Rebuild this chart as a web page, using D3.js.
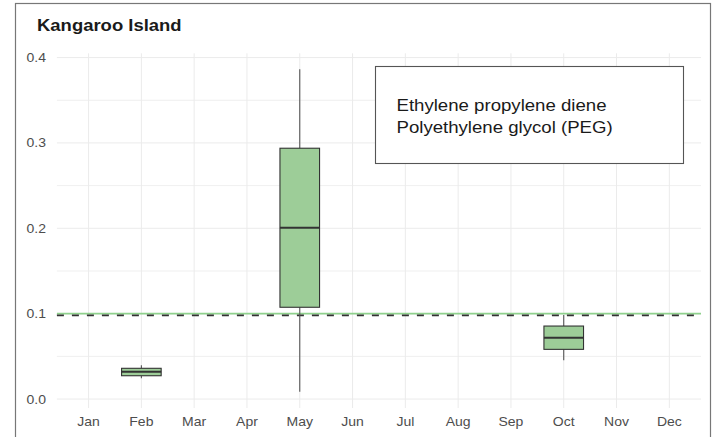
<!DOCTYPE html>
<html>
<head>
<meta charset="utf-8">
<script src="https://cdn.jsdelivr.net/npm/d3@7"></script>
<style>
  html, body { margin: 0; padding: 0; background: #fff; }
  svg { display: block; font-family: "Liberation Sans", Arial, Helvetica, sans-serif; }
</style>
</head>
<body>
<div id="chart"></div>
<script>
// Monthly box plots for Kangaroo Island
const months = ["Jan", "Feb", "Mar", "Apr", "May", "Jun", "Jul", "Aug", "Sep", "Oct", "Nov", "Dec"];
const boxMonths = ["Feb", "May", "Oct"];
const lowerWhisker = [0.0243, 0.0085, 0.0454];
const q1 = [0.0273, 0.1075, 0.0582];
const median = [0.032, 0.2007, 0.0718];
const q3 = [0.036, 0.2938, 0.0855];
const upperWhisker = [0.0395, 0.3864, 0.0984];
const yTicks = [0, 0.1, 0.2, 0.3, 0.4];
const yMinorTicks = [0.05, 0.15, 0.25, 0.35];
const guideValue = 0.1;      // solid green reference
const limitValue = 0.098;    // dashed reference
const title = "Kangaroo Island";
const legendLabels = ["Ethylene propylene diene", "Polyethylene glycol (PEG)"];

const W = 713, H = 437;
const panel = { left: 56.9, right: 701, top: 53.3, bottom: 408 };
const SX = 1.12; // horizontal text stretch

const svg = d3.select("#chart").append("svg")
  .attr("width", W).attr("height", H);

// outer frame
svg.append("rect")
  .attr("x", 15.5).attr("y", 3.5)
  .attr("width", 695).attr("height", 460)
  .attr("fill", "#fff").attr("stroke", "#777").attr("stroke-width", 1.2);

const x = d3.scalePoint().domain(months)
  .range([panel.left, panel.right]).padding(0.6);
const y = d3.scaleLinear().domain([-0.0105, 0.405])
  .range([panel.bottom, panel.top]);
const step = x.step();
const boxW = step * 0.75;

function stretchedText(g, tx, ty, str, anchor, sx) {
  return g.append("text")
    .attr("transform", `translate(${tx},${ty}) scale(${sx || SX},1)`)
    .attr("text-anchor", anchor || "start")
    .text(str);
}

// grid
const grid = svg.append("g").attr("stroke", "#ebebeb").attr("stroke-width", 1);
grid.selectAll("line.minor").data(yMinorTicks).join("line")
  .attr("x1", panel.left).attr("x2", panel.right)
  .attr("y1", d => y(d)).attr("y2", d => y(d)).attr("stroke-width", 0.8);
grid.selectAll("line.major").data(yTicks).join("line")
  .attr("x1", panel.left).attr("x2", panel.right)
  .attr("y1", d => y(d)).attr("y2", d => y(d));
grid.selectAll("line.v").data(months).join("line")
  .attr("x1", d => x(d)).attr("x2", d => x(d))
  .attr("y1", panel.top).attr("y2", panel.bottom);

// y axis labels
const yAxis = d3.axisLeft(y).tickValues(yTicks).tickFormat(d3.format(".1f")).tickSize(0);
const yg = svg.append("g").attr("transform", `translate(${panel.left},0)`).call(yAxis);
yg.select(".domain").remove();
yg.selectAll("text").remove();
yTicks.forEach(t => {
  stretchedText(svg, 46, y(t) + 4.5, d3.format(".1f")(t), "end")
    .attr("font-size", 12.5).attr("fill", "#4d4d4d");
});

// x axis labels
const xAxis = d3.axisBottom(x).tickSize(0);
const xg = svg.append("g").attr("transform", `translate(0,${panel.bottom})`).call(xAxis);
xg.select(".domain").remove();
xg.selectAll("text").remove();
months.forEach(m => {
  stretchedText(svg, x(m), 425.5, m, "middle")
    .attr("font-size", 12.5).attr("fill", "#4d4d4d");
});

// reference lines
svg.append("line")
  .attr("x1", panel.left).attr("x2", panel.right)
  .attr("y1", y(guideValue)).attr("y2", y(guideValue))
  .attr("stroke", "#8fd18d").attr("stroke-width", 1.6);
svg.append("line")
  .attr("x1", panel.left).attr("x2", panel.right)
  .attr("y1", y(limitValue)).attr("y2", y(limitValue))
  .attr("stroke", "#333").attr("stroke-width", 1.8)
  .attr("stroke-dasharray", "7 8");

// box plots
const boxes = boxMonths.map((m, i) => ({
  m, lo: lowerWhisker[i], q1: q1[i], med: median[i], q3: q3[i], hi: upperWhisker[i]
}));
const bg = svg.append("g");
const b = bg.selectAll("g.box").data(boxes).join("g");
b.append("line")
  .attr("x1", d => x(d.m)).attr("x2", d => x(d.m))
  .attr("y1", d => y(d.hi)).attr("y2", d => y(d.q3))
  .attr("stroke", "#555").attr("stroke-width", 1.1);
b.append("line")
  .attr("x1", d => x(d.m)).attr("x2", d => x(d.m))
  .attr("y1", d => y(d.q1)).attr("y2", d => y(d.lo))
  .attr("stroke", "#555").attr("stroke-width", 1.1);
b.append("rect")
  .attr("x", d => x(d.m) - boxW / 2).attr("width", boxW)
  .attr("y", d => y(d.q3)).attr("height", d => y(d.q1) - y(d.q3))
  .attr("fill", "#9dcd98").attr("stroke", "#333").attr("stroke-width", 1.1);
b.append("line")
  .attr("x1", d => x(d.m) - boxW / 2).attr("x2", d => x(d.m) + boxW / 2)
  .attr("y1", d => y(d.med)).attr("y2", d => y(d.med))
  .attr("stroke", "#333").attr("stroke-width", 2);

// legend
const lg = svg.append("g");
lg.append("rect")
  .attr("x", 375.5).attr("y", 66.5).attr("width", 308).attr("height", 97)
  .attr("fill", "#fff").attr("stroke", "#555").attr("stroke-width", 1.1);
legendLabels.forEach((t, i) => {
  stretchedText(lg, 396.5, 110.8 + i * 22.6, t, "start", 1.15)
    .attr("font-size", 16.2).attr("fill", "#1a1a1a");
});

// title
stretchedText(svg, 37, 31, title)
  .attr("font-size", 16.5).attr("font-weight", "bold").attr("fill", "#1a1a1a");
</script>
</body>
</html>
